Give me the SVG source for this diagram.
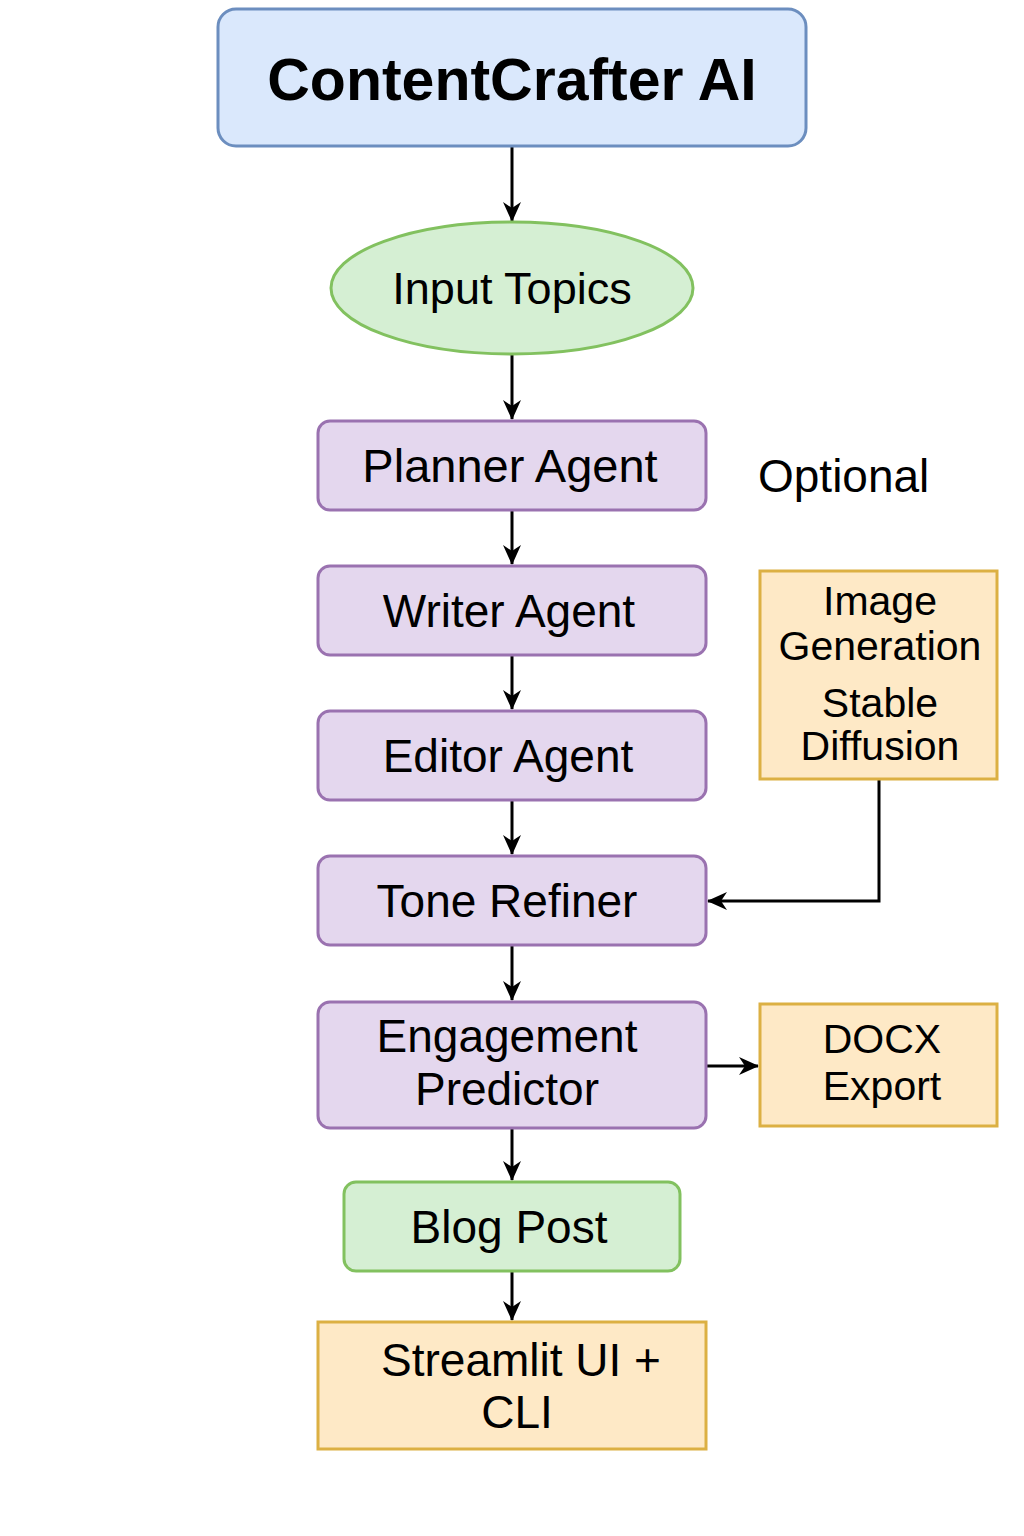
<svg xmlns="http://www.w3.org/2000/svg" width="1024" height="1536" viewBox="0 0 1024 1536">
<defs>
<marker id="ah" viewBox="0 0 20 20" refX="19" refY="10" markerWidth="20" markerHeight="20" markerUnits="userSpaceOnUse" orient="auto">
<path d="M0,1 L20,10 L0,19 L6,10 z" fill="#000"/>
</marker>
<style>
text{font-family:"Liberation Sans",Arial,sans-serif;fill:#000;text-anchor:middle}
.blue{fill:#dae8fc;stroke:#6c8ebf;stroke-width:3}
.green{fill:#d5efd3;stroke:#82c15f;stroke-width:3}
.purple{fill:#e4d7ee;stroke:#9a72b0;stroke-width:3}
.orange{fill:#fee9c6;stroke:#dcb043;stroke-width:3}
.t{font-size:46px}
.s{font-size:41px}
.c{fill:none;stroke:#000;stroke-width:3;marker-end:url(#ah)}
</style>
</defs>
<rect width="1024" height="1536" fill="#fff"/>
<g id="connectors">
<path class="c" d="M512,147 V221"/>
<path class="c" d="M512,355 V419"/>
<path class="c" d="M512,511 V564"/>
<path class="c" d="M512,656 V709"/>
<path class="c" d="M512,801 V854"/>
<path class="c" d="M512,946 V1000"/>
<path class="c" d="M512,1129 V1180"/>
<path class="c" d="M512,1272 V1320"/>
<path class="c" d="M879,780 V901 H708"/>
<path class="c" d="M707,1066 H758"/>
</g>
<g id="title">
<rect class="blue" x="218" y="9" width="588" height="137" rx="18"/>
<text x="512" y="100" style="font-size:59px;font-weight:bold">ContentCrafter AI</text>
</g>
<g id="input-topics">
<ellipse class="green" cx="512" cy="288" rx="181" ry="66"/>
<text class="t" x="512" y="304" style="font-size:45px">Input Topics</text>
</g>
<g id="planner-agent">
<rect class="purple" x="318" y="421" width="388" height="89" rx="12"/>
<text class="t" x="510" y="482" style="font-size:47px">Planner Agent</text>
</g>
<text id="optional" class="t" x="758" y="492" style="text-anchor:start">Optional</text>
<g id="writer-agent">
<rect class="purple" x="318" y="566" width="388" height="89" rx="12"/>
<text class="t" x="509" y="627">Writer Agent</text>
</g>
<g id="editor-agent">
<rect class="purple" x="318" y="711" width="388" height="89" rx="12"/>
<text class="t" x="508" y="772">Editor Agent</text>
</g>
<g id="tone-refiner">
<rect class="purple" x="318" y="856" width="388" height="89" rx="12"/>
<text class="t" x="507" y="917">Tone Refiner</text>
</g>
<g id="engagement-predictor">
<rect class="purple" x="318" y="1002" width="388" height="126" rx="12"/>
<text class="t" x="507" y="1052">Engagement</text>
<text class="t" x="507" y="1105">Predictor</text>
</g>
<g id="blog-post">
<rect class="green" x="344" y="1182" width="336" height="89" rx="12"/>
<text class="t" x="509" y="1243">Blog Post</text>
</g>
<g id="streamlit-ui">
<rect class="orange" x="318" y="1322" width="388" height="127"/>
<text class="t" x="521" y="1376">Streamlit UI +</text>
<text class="t" x="517" y="1428">CLI</text>
</g>
<g id="image-generation">
<rect class="orange" x="760" y="571" width="237" height="208"/>
<text class="s" x="880" y="615">Image</text>
<text class="s" x="880" y="660">Generation</text>
<text class="s" x="880" y="717">Stable</text>
<text class="s" x="880" y="760">Diffusion</text>
</g>
<g id="docx-export">
<rect class="orange" x="760" y="1004" width="237" height="122"/>
<text class="s" x="882" y="1053">DOCX</text>
<text class="s" x="882" y="1100">Export</text>
</g>
</svg>
